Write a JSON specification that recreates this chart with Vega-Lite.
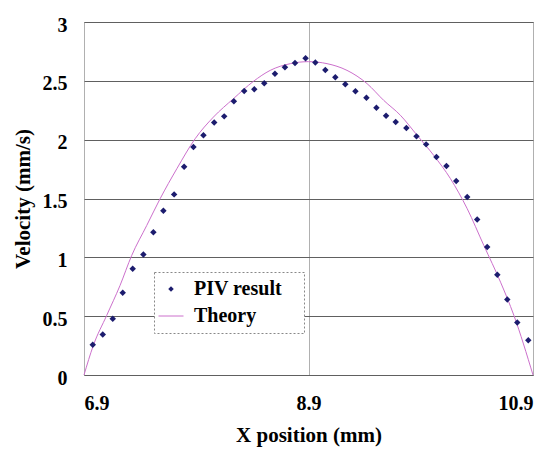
{
  "$schema": "https://vega.github.io/schema/vega-lite/v6.json",
  "width": 449,
  "height": 353,
  "autosize": "none",
  "padding": {"left": 84, "top": 22, "right": 21, "bottom": 75},
  "background": "white",
  "view": {"stroke": "#808080", "strokeWidth": 1},
  "config": {
    "font": "Liberation Serif",
    "axis": {"labelFont": "Liberation Serif", "titleFont": "Liberation Serif", "labelFontWeight": "bold", "titleFontWeight": "bold", "labelColor": "black", "titleColor": "black", "labelFontSize": 20, "titleFontSize": 21, "ticks": false, "domain": false}
  },
  "datasets": {
    "piv": [
      {"x": 6.978, "v": 0.257, "series": "PIV result"},
      {"x": 7.067, "v": 0.344, "series": "PIV result"},
      {"x": 7.156, "v": 0.478, "series": "PIV result"},
      {"x": 7.245, "v": 0.699, "series": "PIV result"},
      {"x": 7.334, "v": 0.903, "series": "PIV result"},
      {"x": 7.429, "v": 1.025, "series": "PIV result"},
      {"x": 7.518, "v": 1.214, "series": "PIV result"},
      {"x": 7.607, "v": 1.396, "series": "PIV result"},
      {"x": 7.703, "v": 1.535, "series": "PIV result"},
      {"x": 7.792, "v": 1.770, "series": "PIV result"},
      {"x": 7.875, "v": 1.937, "series": "PIV result"},
      {"x": 7.964, "v": 2.037, "series": "PIV result"},
      {"x": 8.060, "v": 2.145, "series": "PIV result"},
      {"x": 8.149, "v": 2.198, "series": "PIV result"},
      {"x": 8.235, "v": 2.326, "series": "PIV result"},
      {"x": 8.327, "v": 2.413, "series": "PIV result"},
      {"x": 8.417, "v": 2.428, "series": "PIV result"},
      {"x": 8.506, "v": 2.479, "series": "PIV result"},
      {"x": 8.601, "v": 2.561, "series": "PIV result"},
      {"x": 8.690, "v": 2.615, "series": "PIV result"},
      {"x": 8.780, "v": 2.651, "series": "PIV result"},
      {"x": 8.874, "v": 2.691, "series": "PIV result"},
      {"x": 8.961, "v": 2.655, "series": "PIV result"},
      {"x": 9.050, "v": 2.592, "series": "PIV result"},
      {"x": 9.139, "v": 2.530, "series": "PIV result"},
      {"x": 9.228, "v": 2.470, "series": "PIV result"},
      {"x": 9.318, "v": 2.411, "series": "PIV result"},
      {"x": 9.416, "v": 2.357, "series": "PIV result"},
      {"x": 9.505, "v": 2.272, "series": "PIV result"},
      {"x": 9.591, "v": 2.204, "series": "PIV result"},
      {"x": 9.677, "v": 2.150, "series": "PIV result"},
      {"x": 9.772, "v": 2.099, "series": "PIV result"},
      {"x": 9.862, "v": 2.028, "series": "PIV result"},
      {"x": 9.948, "v": 1.960, "series": "PIV result"},
      {"x": 10.040, "v": 1.852, "series": "PIV result"},
      {"x": 10.129, "v": 1.776, "series": "PIV result"},
      {"x": 10.216, "v": 1.648, "series": "PIV result"},
      {"x": 10.314, "v": 1.512, "series": "PIV result"},
      {"x": 10.403, "v": 1.322, "series": "PIV result"},
      {"x": 10.492, "v": 1.087, "series": "PIV result"},
      {"x": 10.582, "v": 0.852, "series": "PIV result"},
      {"x": 10.671, "v": 0.642, "series": "PIV result"},
      {"x": 10.760, "v": 0.446, "series": "PIV result"},
      {"x": 10.858, "v": 0.296, "series": "PIV result"}
    ],
    "theory": [
      {"x": 6.900, "v": 0.000, "series": "Theory"},
      {"x": 6.983, "v": 0.251, "series": "Theory"},
      {"x": 7.102, "v": 0.506, "series": "Theory"},
      {"x": 7.221, "v": 0.761, "series": "Theory"},
      {"x": 7.325, "v": 1.016, "series": "Theory"},
      {"x": 7.459, "v": 1.271, "series": "Theory"},
      {"x": 7.578, "v": 1.498, "series": "Theory"},
      {"x": 7.727, "v": 1.753, "series": "Theory"},
      {"x": 7.890, "v": 2.008, "series": "Theory"},
      {"x": 8.053, "v": 2.192, "series": "Theory"},
      {"x": 8.232, "v": 2.349, "series": "Theory"},
      {"x": 8.410, "v": 2.496, "series": "Theory"},
      {"x": 8.559, "v": 2.589, "series": "Theory"},
      {"x": 8.738, "v": 2.646, "series": "Theory"},
      {"x": 8.900, "v": 2.663, "series": "Theory"},
      {"x": 9.065, "v": 2.646, "series": "Theory"},
      {"x": 9.243, "v": 2.589, "series": "Theory"},
      {"x": 9.422, "v": 2.476, "series": "Theory"},
      {"x": 9.570, "v": 2.334, "series": "Theory"},
      {"x": 9.719, "v": 2.207, "series": "Theory"},
      {"x": 9.868, "v": 2.037, "series": "Theory"},
      {"x": 10.016, "v": 1.866, "series": "Theory"},
      {"x": 10.165, "v": 1.668, "series": "Theory"},
      {"x": 10.314, "v": 1.413, "series": "Theory"},
      {"x": 10.462, "v": 1.101, "series": "Theory"},
      {"x": 10.611, "v": 0.789, "series": "Theory"},
      {"x": 10.730, "v": 0.506, "series": "Theory"},
      {"x": 10.900, "v": 0.000, "series": "Theory"}
    ]
  },
  "encoding": {
    "x": {
      "field": "x", "type": "quantitative",
      "scale": {"domain": [6.9, 10.9], "nice": false, "zero": false},
      "axis": {"values": [6.9, 8.9, 10.9], "labelExpr": "format(datum.value, '.1f')", "title": "X position (mm)", "grid": true, "gridColor": "#b0b0b0", "labelPadding": 18, "titlePadding": 11}
    },
    "y": {
      "field": "v", "type": "quantitative",
      "scale": {"domain": [0, 3], "nice": false, "zero": true},
      "axis": {"values": [0, 0.5, 1, 1.5, 2, 2.5, 3], "labelExpr": "'' + datum.value", "title": "Velocity (mm/s)", "grid": true, "gridColor": "#606060", "labelPadding": 17, "labelOffset": 3, "titlePadding": 9}
    }
  },
  "layer": [
    {
      "data": {"name": "theory"},
      "mark": {"type": "line", "strokeWidth": 1, "interpolate": "monotone"},
      "encoding": {
        "color": {
          "field": "series", "type": "nominal",
          "scale": {"domain": ["PIV result", "Theory"], "range": ["#1c1c6e", "#cc70cc"]},
          "legend": {
            "orient": "none", "legendX": 70, "legendY": 250, "title": null,
            "labelFont": "Liberation Serif", "labelFontSize": 20, "labelFontWeight": "bold", "labelColor": "black",
            "labelExpr": "datum.label + '\u2800'",
            "strokeColor": "#888888", "fillColor": "white",
            "padding": 7, "rowPadding": 7, "symbolSize": 625, "labelOffset": 13, "labelLimit": 300,
            "encode": {
              "legend": {"update": {"strokeDash": {"value": [2, 2]}}},
              "symbols": {
                "update": {
                  "shape": {"signal": "datum.value === 'Theory' ? 'stroke' : 'diamond'"},
                  "strokeWidth": {"signal": "datum.value === 'Theory' ? 1 : 0"},
                  "stroke": {"signal": "datum.value === 'Theory' ? '#cc70cc' : 'transparent'"},
                  "fill": {"signal": "datum.value === 'Theory' ? 'transparent' : '#1c1c6e'"},
                  "size": {"signal": "datum.value === 'Theory' ? 625 : 30"},
                  "opacity": {"value": 1}
                }
              }
            }
          }
        }
      }
    },
    {
      "data": {"name": "piv"},
      "mark": {"type": "point", "shape": "diamond", "filled": true, "size": 42, "opacity": 1},
      "encoding": {
        "color": {"field": "series", "type": "nominal"}
      }
    }
  ]
}
